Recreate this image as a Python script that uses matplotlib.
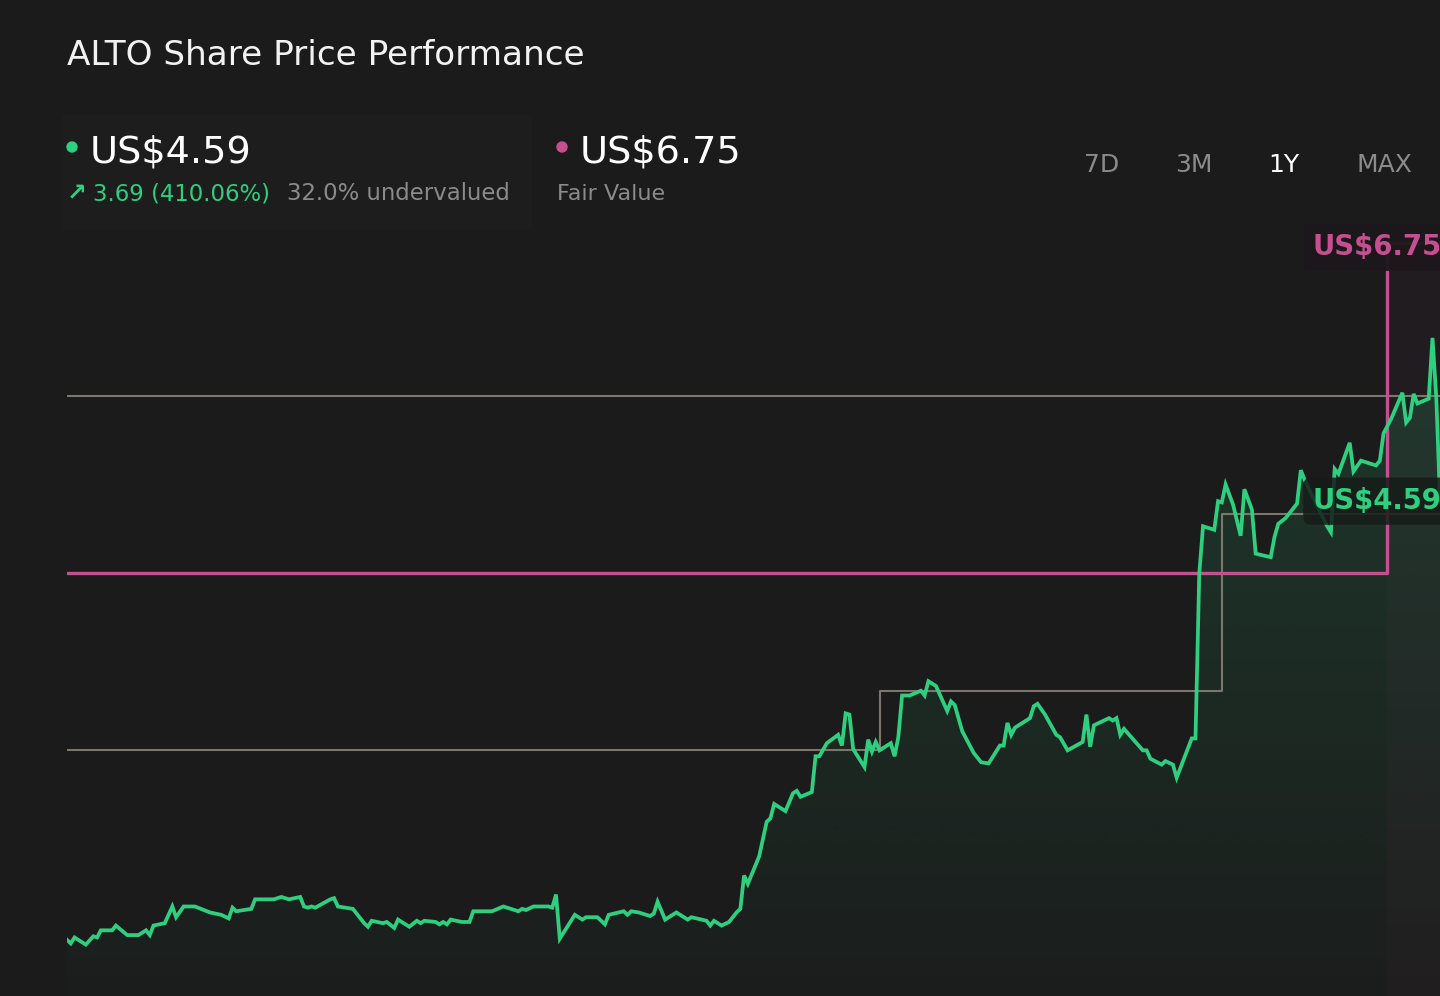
import numpy as np
import matplotlib
matplotlib.use("Agg")
import matplotlib.pyplot as plt
from matplotlib.patches import Rectangle, Circle

# ---------------- data ----------------
days = [0, 1, 2, 5, 7, 8, 9, 12, 13, 16,
        19, 21, 22, 23, 26, 28, 29, 31, 34, 38,
        41, 43, 44, 45, 49, 50, 55, 57, 59, 62,
        63, 64, 65, 66, 70, 71, 72, 76, 79, 80,
        81, 84, 85, 87, 88, 91, 93, 94, 95, 98,
        99, 100, 101, 102, 105, 107, 108, 109, 113, 116,
        120, 121, 122, 124, 128, 129, 130, 131, 135, 137,
        138, 141, 143, 144, 148, 149, 150, 152, 155, 156,
        157, 159, 162, 165, 166, 170, 171, 172, 174, 176,
        178, 179, 180, 181, 184, 186, 187, 188, 191, 193,
        194, 195, 198, 199, 200, 202, 205, 206, 207, 208,
        209, 212, 213, 214, 215, 216, 219, 220, 221, 222,
        224, 227, 228, 229, 231, 234, 235, 236, 238, 241,
        243, 245, 248, 249, 250, 251, 252, 256, 257, 258,
        260, 263, 264, 266, 270, 271, 272, 273, 277, 278,
        279, 280, 281, 286, 287, 288, 291, 292, 294, 295,
        299, 300, 301, 302, 305, 306, 307, 308, 310, 312,
        313, 315, 316, 320, 321, 322, 324, 327, 328, 329,
        335, 336, 337, 338, 341, 342, 344, 348, 349, 350,
        352, 355, 356, 357, 358, 359, 362, 363, 364, 365]

prices = [0.90, 0.87, 0.92, 0.86, 0.93, 0.92, 0.98, 0.98, 1.02, 0.94,
          0.94, 0.98, 0.94, 1.02, 1.04, 1.18, 1.09, 1.18, 1.18, 1.13,
          1.11, 1.08, 1.17, 1.14, 1.16, 1.24, 1.24, 1.26, 1.24, 1.26,
          1.18, 1.17, 1.18, 1.17, 1.24, 1.25, 1.18, 1.16, 1.04, 1.01,
          1.06, 1.04, 1.05, 1.00, 1.07, 1.01, 1.06, 1.04, 1.06, 1.05,
          1.03, 1.05, 1.03, 1.07, 1.05, 1.05, 1.14, 1.14, 1.14, 1.18,
          1.14, 1.16, 1.15, 1.18, 1.18, 1.17, 1.28, 0.91, 1.11, 1.07,
          1.09, 1.09, 1.03, 1.11, 1.14, 1.11, 1.14, 1.13, 1.10, 1.12,
          1.22, 1.07, 1.13, 1.07, 1.09, 1.06, 1.02, 1.06, 1.02, 1.05,
          1.13, 1.16, 1.44, 1.37, 1.60, 1.89, 1.92, 2.04, 1.98, 2.13,
          2.15, 2.10, 2.14, 2.44, 2.44, 2.55, 2.62, 2.53, 2.80, 2.79,
          2.50, 2.35, 2.58, 2.48, 2.56, 2.49, 2.55, 2.44, 2.60, 2.95,
          2.95, 2.99, 2.95, 3.07, 3.03, 2.82, 2.90, 2.87, 2.65, 2.47,
          2.39, 2.38, 2.53, 2.53, 2.72, 2.62, 2.68, 2.76, 2.86, 2.88,
          2.79, 2.62, 2.60, 2.49, 2.56, 2.79, 2.52, 2.70, 2.76, 2.74,
          2.76, 2.62, 2.67, 2.49, 2.49, 2.42, 2.37, 2.40, 2.37, 2.26,
          2.59, 2.59, 3.97, 4.37, 4.34, 4.58, 4.57, 4.72, 4.55, 4.29,
          4.68, 4.51, 4.14, 4.11, 4.28, 4.39, 4.44, 4.56, 4.84, 4.76,
          4.37, 4.32, 4.85, 4.81, 5.07, 4.83, 4.92, 4.88, 4.92, 5.15,
          5.27, 5.49, 5.24, 5.28, 5.48, 5.40, 5.44, 5.95, 5.46, 4.59]

# grey step series (change dates and levels)
step_days = [0, 216, 307, 365]
step_values = [2.49, 2.99, 4.47]
# grey constant reference level
ref_level = 5.46
# fair value step
fair_days = [0, 351, 365]
fair_values = [3.98, 6.75]

title = "ALTO Share Price Performance"
price_label = "US$4.59"
fair_label = "US$6.75"
change_text = "3.69 (410.06%)"
under_text = "32.0% undervalued"
fair_caption = "Fair Value"
tabs = ["7D", "3M", "1Y", "MAX"]

# ---------------- style ----------------
BG = "#1b1b1b"
GREEN = "#2fcf80"
PINK = "#c64f92"
GREY_LINE = "#7b776c"
GREY_TXT = "#8b8b8b"
W, H = 1440, 996

fig = plt.figure(figsize=(W / 100, H / 100), dpi=100, facecolor=BG)

# overlay axes in pixel units for header
hdr = fig.add_axes([0, 0, 1, 1], zorder=0)
hdr.set_xlim(0, W)
hdr.set_ylim(H, 0)
hdr.axis("off")
hdr.add_patch(Rectangle((62, 115), 470, 115, facecolor="#1c1d1c", edgecolor="none"))

# main chart axes
y_lo, y_hi = 0.429, 6.939
ax = fig.add_axes([67 / W, 0, (W - 67) / W, (H - 220) / H], zorder=1)
ax.set_facecolor("none")
ax.set_xlim(0, 365)
ax.set_ylim(y_lo, y_hi)
ax.axis("off")

# fair value shaded zone
ax.fill_between([fair_days[1], fair_days[2]], y_lo, fair_values[1],
                color=PINK, alpha=0.035, linewidth=0, zorder=1)

# gradient fill under price
poly = ax.fill_between(days, prices, y_lo, facecolor="none", edgecolor="none")
path = poly.get_paths()[0]
n = 200
grad = np.zeros((n, 1, 4))
grad[:, 0, 0] = 0.18
grad[:, 0, 1] = 0.80
grad[:, 0, 2] = 0.50
grad[:, 0, 3] = np.linspace(0.015, 0.17, n)
img = ax.imshow(grad, extent=[0, 365, y_lo, max(prices)], aspect="auto",
                origin="lower", zorder=2, interpolation="bilinear")
img.set_clip_path(path, transform=ax.transData)

# grey reference and step lines
ax.axhline(ref_level, color=GREY_LINE, lw=1.5, zorder=3)
ax.step(step_days, step_values + [step_values[-1]], where="post",
        color=GREY_LINE, lw=1.5, zorder=3)

# fair value step line
ax.step(fair_days, fair_values + [fair_values[-1]], where="post",
        color=PINK, lw=2.4, zorder=4)

# price line
ax.plot(days, prices, color=GREEN, lw=2.7, zorder=5, solid_joinstyle="miter")

# value tags
ax.text(331.2, 6.71, fair_label, color=PINK, fontsize=19.8, fontweight="bold",
        ha="left", va="center", zorder=10,
        bbox=dict(boxstyle="round,pad=0.35,rounding_size=0.3", facecolor="#1d171b",
                  edgecolor="none", alpha=0.95))
ax.text(331.2, 4.58, price_label, color=GREEN, fontsize=19.8, fontweight="bold",
        ha="left", va="center", zorder=10,
        bbox=dict(boxstyle="round,pad=0.35,rounding_size=0.3", facecolor="#161c19",
                  edgecolor="none", alpha=0.85))

# ---------------- header ----------------
hdr.text(67, 65, title, color="#f2f2f2", fontsize=24.7, ha="left", va="baseline")

hdr.add_patch(Circle((72, 147), 5, color=GREEN))
hdr.text(90, 162, price_label, color="white", fontsize=27.5, ha="left", va="baseline")
hdr.text(67, 200, "\u2197", color=GREEN, fontsize=17, ha="left", va="baseline",
         fontweight="bold")
hdr.text(93, 200, change_text, color=GREEN, fontsize=16.4, ha="left", va="baseline")
hdr.text(287, 200, under_text, color=GREY_TXT, fontsize=16.4, ha="left", va="baseline")

hdr.add_patch(Circle((562, 147), 5, color=PINK))
hdr.text(580, 162, fair_label, color="white", fontsize=27.5, ha="left", va="baseline")
hdr.text(557, 200, fair_caption, color=GREY_TXT, fontsize=16, ha="left", va="baseline")

tab_x = [1102, 1194, 1284, 1384]
for t, xp in zip(tabs, tab_x):
    hdr.text(xp, 172, t, color="white" if t == "1Y" else GREY_TXT, fontsize=18,
             ha="center", va="baseline")

fig.savefig("out.png", dpi=100, facecolor=BG)
